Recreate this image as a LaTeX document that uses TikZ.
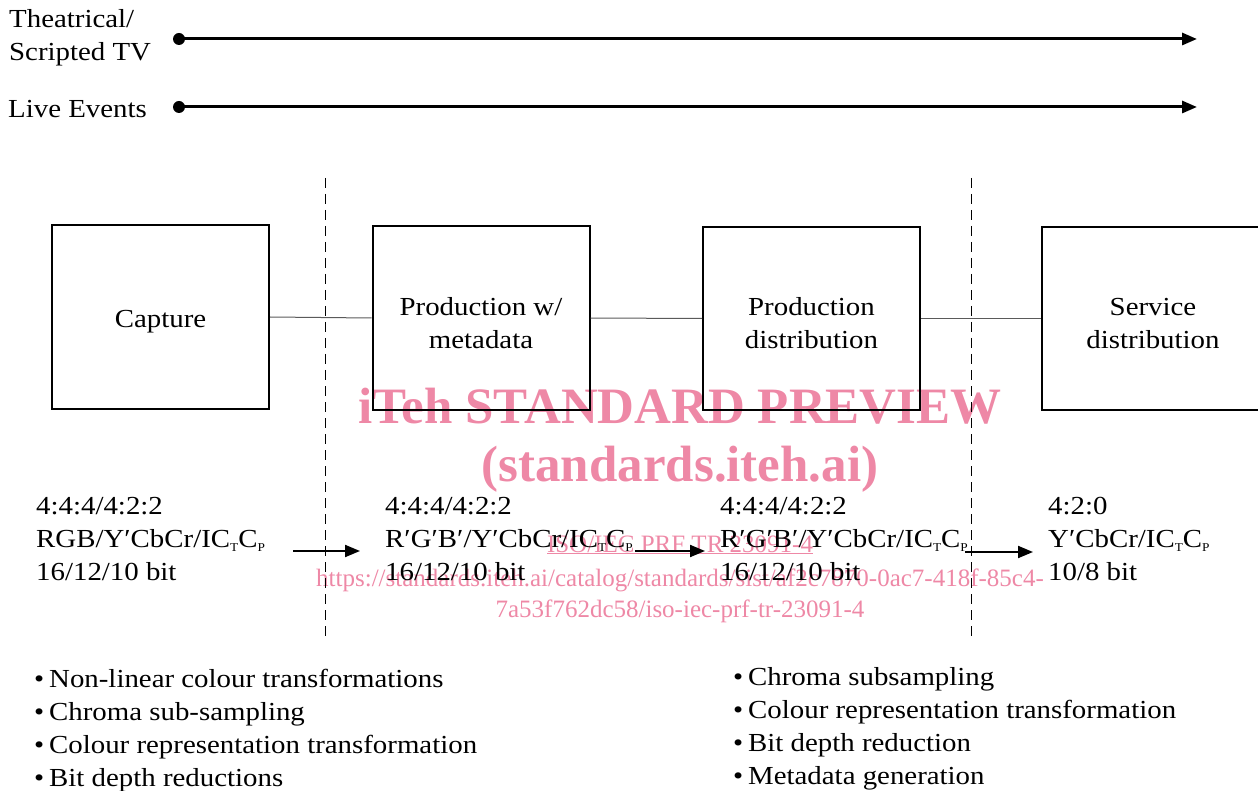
\documentclass[tikz,border=0pt]{standalone}
\usepackage{fontspec}
\setmainfont[FakeStretch=1.11]{Liberation Serif}
\newfontfamily\wmfont{Liberation Serif}
\usetikzlibrary{arrows.meta}
\definecolor{wmpink}{RGB}{238,136,166}
\definecolor{thinline}{RGB}{90,90,90}
\newcommand\lowsub[1]{\raisebox{-0.35ex}{\fontsize{12}{12}\selectfont #1}}
\newcommand\bul{\makebox[15pt][l]{•}}
\newcommand\tallstrut{\rule{0pt}{27.5pt}}
\begin{document}
\begin{tikzpicture}[x=1pt,y=-1pt,
  every node/.style={font=\fontsize{26}{33}\selectfont, inner sep=0pt},
  stagebox/.style={draw, line width=2pt, minimum width=217pt, minimum height=183pt, align=center},
  infotext/.style={align=left, anchor=base west},
  dotnode/.style={circle, fill, minimum size=12pt},
  timeline/.style={line width=3pt, -{Triangle[length=15pt,width=12pt]}},
  flow/.style={line width=2pt, -{Triangle[length=15pt,width=12pt]}},
  link/.style={draw=thinline, line width=1pt},
  phase/.style={line width=1pt, dash pattern=on 10pt off 6pt},
  wmbig/.style={text=wmpink, anchor=base, font={\fontsize{51}{60}\selectfont\wmfont\bfseries}},
  wmsmall/.style={text=wmpink, anchor=base, font={\fontsize{25}{30}\selectfont\wmfont}}
]
\useasboundingbox (0,0) rectangle (1258,791);
\clip (0,0) rectangle (1258,791);

% watermark (behind)
\node[wmbig] (wm1) at (680,423) {iTeh STANDARD PREVIEW};
\node[wmbig] (wm2) at (680,481) {(standards.iteh.ai)};
\node[wmsmall] (wm3) at (680,552) {\underline{ISO/IEC PRF TR 23091-4}};
\node[wmsmall] (wm4) at (680,586) {https://standards.iteh.ai/catalog/standards/sist/af2c7870-0ac7-418f-85c4-};
\node[wmsmall] (wm5) at (680,617) {7a53f762dc58/iso-iec-prf-tr-23091-4};

% timelines
\node[anchor=west, align=left] (tlab1) at (9,38) {Theatrical/\\Scripted TV};
\node[anchor=west] (tlab2) at (8,109) {Live Events};
\node[dotnode] (t1s) at (179,39) {};
\node[dotnode] (t2s) at (179,107) {};
\coordinate (t1e) at (1197,39);
\coordinate (t2e) at (1197,107);
\draw[timeline] (t1s.center) -- (t1e);
\draw[timeline] (t2s.center) -- (t2e);

% phase separators
\coordinate (d1t) at (325,178); \coordinate (d1b) at (325,640);
\coordinate (d2t) at (971,178); \coordinate (d2b) at (971,640);
\draw[phase] (d1t) -- (d1b);
\draw[phase] (d2t) -- (d2b);

% stages
\node[stagebox] (cap) at (160.5,317) {\tallstrut Capture};
\node[stagebox] (prod) at (481,318) {\tallstrut Production w/\\metadata};
\node[stagebox] (pdist) at (811.5,318.5) {\tallstrut Production\\distribution};
\node[stagebox, minimum width=222pt] (sdist) at (1153,318.5) {\tallstrut Service\\distribution};
\draw[link] (cap.east) -- (prod.west);
\draw[link] (prod.east) -- (pdist.west);
\draw[link] (pdist.east) -- (sdist.west);

% formats (base anchor = last line baseline)
\node[infotext] (f1) at (36,580) {4:4:4/4:2:2\\RGB/Y′CbCr/IC\lowsub{T}C\lowsub{P}\\16/12/10 bit};
\node[infotext] (f2) at (385,580) {4:4:4/4:2:2\\R′G′B′/Y′CbCr/IC\lowsub{T}C\lowsub{P}\\16/12/10 bit};
\node[infotext] (f3) at (720,580) {4:4:4/4:2:2\\R′G′B′/Y′CbCr/IC\lowsub{T}C\lowsub{P}\\16/12/10 bit};
\node[infotext] (f4) at (1048,580) {4:2:0\\Y′CbCr/IC\lowsub{T}C\lowsub{P}\\10/8 bit};
\coordinate (a1s) at (293,551); \coordinate (a1e) at (360,551);
\coordinate (a2s) at (635,551); \coordinate (a2e) at (705,551);
\coordinate (a3s) at (965,552); \coordinate (a3e) at (1033,552);
\draw[flow] (a1s) -- (a1e);
\draw[flow] (a2s) -- (a2e);
\draw[flow] (a3s) -- (a3e);

% operations
\node[infotext] (ops1) at (34,786) {\bul Non-linear colour transformations\\\bul Chroma sub-sampling\\\bul Colour representation transformation\\\bul Bit depth reductions};
\node[infotext] (ops2) at (733,784) {\bul Chroma subsampling\\\bul Colour representation transformation\\\bul Bit depth reduction\\\bul Metadata generation};
\end{tikzpicture}
\end{document}
